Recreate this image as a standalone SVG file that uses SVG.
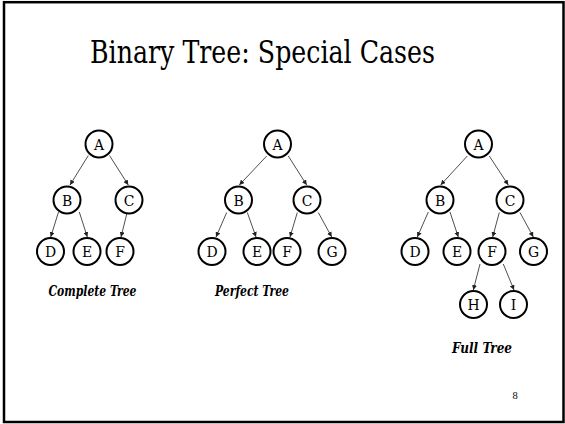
<svg xmlns="http://www.w3.org/2000/svg" width="565" height="424" viewBox="0 0 565 424">
  <style>
    text { fill: #000; text-anchor: middle; font-family: 'DejaVu Serif', serif; }
    .frame { fill: #fff; stroke: #000; stroke-width: 2.5; }
    .title { font-size: 31px; font-stretch: condensed; }
    .node circle { fill: #fff; stroke: #000; stroke-width: 2; }
    .node text { font-size: 15.5px; font-stretch: condensed; }
    .edge { stroke: #222; stroke-width: 0.8; fill: none; marker-end: url(#arrow); }
    .caption { font-size: 14px; font-weight: bold; font-style: italic; font-stretch: condensed; }
    .pageno { font-size: 9px; }
  </style>
  <defs>
    <marker id="arrow" viewBox="0 0 10 10" refX="10" refY="5" markerWidth="5" markerHeight="5" markerUnits="userSpaceOnUse" orient="auto">
      <path d="M0,0 L10,5 L0,10 z" fill="#222"/>
    </marker>
  </defs>

  <rect class="frame" x="4" y="2.2" width="559.5" height="419.8"/>
  <text class="title" x="262.5" y="63" textLength="345" lengthAdjust="spacingAndGlyphs">Binary Tree: Special Cases</text>

  <!-- connectors -->
  <g id="edges">
    <!-- complete tree -->
    <line class="edge" x1="88.3" y1="155.5" x2="70" y2="185"/>
    <line class="edge" x1="109.5" y1="155.5" x2="128.3" y2="185"/>
    <line class="edge" x1="58.5" y1="212" x2="50.7" y2="237"/>
    <line class="edge" x1="79.3" y1="212" x2="87.3" y2="237"/>
    <line class="edge" x1="127" y1="213" x2="121" y2="237"/>
    <!-- perfect tree -->
    <line class="edge" x1="266.7" y1="156" x2="239.3" y2="185"/>
    <line class="edge" x1="288.3" y1="156" x2="306.7" y2="185"/>
    <line class="edge" x1="226.7" y1="212.5" x2="216" y2="237"/>
    <line class="edge" x1="247.3" y1="212.5" x2="256" y2="237"/>
    <line class="edge" x1="297.3" y1="212.5" x2="290" y2="237"/>
    <line class="edge" x1="318.3" y1="212.5" x2="331.7" y2="237"/>
    <!-- full tree -->
    <line class="edge" x1="467.3" y1="156" x2="440.7" y2="185"/>
    <line class="edge" x1="489.3" y1="156" x2="508.3" y2="185"/>
    <line class="edge" x1="428.3" y1="212" x2="417.3" y2="237"/>
    <line class="edge" x1="450" y1="212" x2="458.3" y2="237"/>
    <line class="edge" x1="499.3" y1="212.5" x2="492.7" y2="237"/>
    <line class="edge" x1="520" y1="212.5" x2="533.3" y2="237"/>
    <line class="edge" x1="480" y1="264" x2="473.3" y2="290"/>
    <line class="edge" x1="503.3" y1="264" x2="514" y2="290"/>
  </g>

  <!-- complete tree nodes -->
  <g id="c-A" class="node"><circle cx="99" cy="144" r="13.5"/><text x="99" y="149.5">A</text></g>
  <g id="c-B" class="node"><circle cx="67" cy="200" r="13.5"/><text x="67" y="205.5">B</text></g>
  <g id="c-C" class="node"><circle cx="129" cy="200" r="13.5"/><text x="129" y="205.5">C</text></g>
  <g id="c-D" class="node"><circle cx="50.5" cy="251.5" r="13.5"/><text x="50.5" y="257">D</text></g>
  <g id="c-E" class="node"><circle cx="87" cy="251.5" r="13.5"/><text x="87" y="257">E</text></g>
  <g id="c-F" class="node"><circle cx="120" cy="251.5" r="13.5"/><text x="120" y="257">F</text></g>
  <text class="caption" x="92.5" y="296" textLength="88" lengthAdjust="spacingAndGlyphs">Complete Tree</text>

  <!-- perfect tree nodes -->
  <g id="p-A" class="node"><circle cx="277.5" cy="144" r="13.5"/><text x="277.5" y="149.5">A</text></g>
  <g id="p-B" class="node"><circle cx="238.5" cy="200" r="13.5"/><text x="238.5" y="205.5">B</text></g>
  <g id="p-C" class="node"><circle cx="307" cy="200" r="13.5"/><text x="307" y="205.5">C</text></g>
  <g id="p-D" class="node"><circle cx="212" cy="251.5" r="13.5"/><text x="212" y="257">D</text></g>
  <g id="p-E" class="node"><circle cx="257" cy="251.5" r="13.5"/><text x="257" y="257">E</text></g>
  <g id="p-F" class="node"><circle cx="287" cy="251.5" r="13.5"/><text x="287" y="257">F</text></g>
  <g id="p-G" class="node"><circle cx="332" cy="251.5" r="13.5"/><text x="332" y="257">G</text></g>
  <text class="caption" x="252" y="296" textLength="74" lengthAdjust="spacingAndGlyphs">Perfect Tree</text>

  <!-- full tree nodes -->
  <g id="f-A" class="node"><circle cx="478.5" cy="144" r="13.5"/><text x="478.5" y="149.5">A</text></g>
  <g id="f-B" class="node"><circle cx="440" cy="200" r="13.5"/><text x="440" y="205.5">B</text></g>
  <g id="f-C" class="node"><circle cx="510" cy="200" r="13.5"/><text x="510" y="205.5">C</text></g>
  <g id="f-D" class="node"><circle cx="415" cy="251.5" r="13.5"/><text x="415" y="257">D</text></g>
  <g id="f-E" class="node"><circle cx="457" cy="251.5" r="13.5"/><text x="457" y="257">E</text></g>
  <g id="f-F" class="node"><circle cx="492" cy="251.5" r="13.5"/><text x="492" y="257">F</text></g>
  <g id="f-G" class="node"><circle cx="533.5" cy="251.5" r="13.5"/><text x="533.5" y="257">G</text></g>
  <g id="f-H" class="node"><circle cx="473.5" cy="304.5" r="13.5"/><text x="473.5" y="310">H</text></g>
  <g id="f-I" class="node"><circle cx="513.5" cy="304.5" r="13.5"/><text x="513.5" y="310">I</text></g>
  <text class="caption" x="482" y="353" textLength="60" lengthAdjust="spacingAndGlyphs">Full Tree</text>

  <text class="pageno" x="515" y="398.5">8</text>
</svg>
